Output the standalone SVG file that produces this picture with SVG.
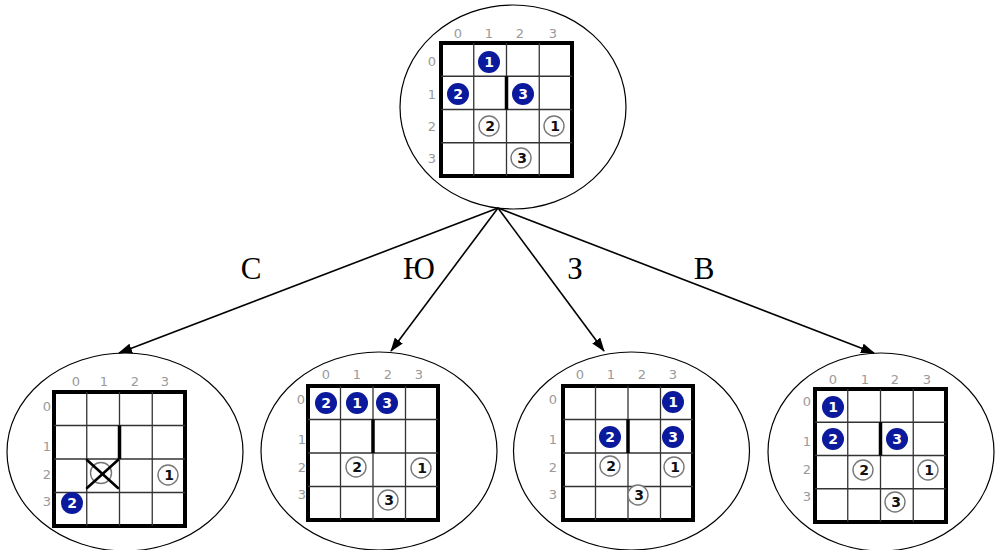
<svg xmlns="http://www.w3.org/2000/svg" width="996" height="550" viewBox="0 0 996 550">
  <style>
    .state { fill: #fff; stroke: #000; stroke-width: 1.2; }
    .frame { fill: #fff; stroke: #000; stroke-width: 4; }
    .cell { stroke: #333; stroke-width: 1.3; fill: none; }
    .wall { stroke: #000; stroke-width: 3.5; stroke-linecap: butt; }
    .idx { font-family: "DejaVu Sans", "Liberation Sans", sans-serif; font-size: 13px; fill: #9a9a9a; text-anchor: middle; }
    .robot { fill: #0b1a9c; }
    .robot-n { font-family: "DejaVu Sans", "Liberation Sans", sans-serif; font-size: 14px; font-weight: bold; fill: #fff; text-anchor: middle; }
    .goal { fill: #fff; stroke: #777; stroke-width: 1.4; }
    .goal-n { font-family: "DejaVu Sans", "Liberation Sans", sans-serif; font-size: 14px; font-weight: bold; fill: #111; text-anchor: middle; }
    .cross { stroke: #000; stroke-width: 2.6; stroke-linecap: round; }
    .edge { stroke: #000; stroke-width: 1.6; fill: none; }
    .move { font-family: "Liberation Serif", "DejaVu Serif", serif; font-size: 31px; fill: #000; text-anchor: middle; }
  </style>
  <defs>
    <marker id="head" markerWidth="14" markerHeight="10" refX="13" refY="5" orient="auto" markerUnits="userSpaceOnUse">
      <path d="M0,0 L14,5 L0,10 Z" fill="#000"/>
    </marker>
  </defs>

  <!-- root state -->
  <g id="root">
    <ellipse class="state" cx="513" cy="107" rx="113" ry="102"/>
    <rect class="frame" x="441" y="43" width="131" height="133"/>
    <path class="cell" d="M473.75,43V176M506.5,43V176M539.25,43V176M441,76.25H572M441,109.5H572M441,142.75H572"/>
    <line class="wall" x1="506.5" y1="76.25" x2="506.5" y2="109.5"/>
    <text class="idx" x="458" y="38">0</text><text class="idx" x="489" y="38">1</text><text class="idx" x="520" y="38">2</text><text class="idx" x="553" y="38">3</text>
    <text class="idx" x="432" y="66">0</text><text class="idx" x="432" y="99">1</text><text class="idx" x="432" y="131">2</text><text class="idx" x="432" y="163">3</text>
    <circle class="robot" cx="489" cy="62" r="11"/><text class="robot-n" x="489" y="67">1</text>
    <circle class="robot" cx="458" cy="94" r="11"/><text class="robot-n" x="458" y="99">2</text>
    <circle class="robot" cx="523" cy="94" r="11"/><text class="robot-n" x="523" y="99">3</text>
    <circle class="goal" cx="489" cy="126" r="10"/><text class="goal-n" x="490" y="131">2</text>
    <circle class="goal" cx="554" cy="126" r="10"/><text class="goal-n" x="555" y="131">1</text>
    <circle class="goal" cx="521" cy="158" r="10"/><text class="goal-n" x="522" y="163">3</text>
  </g>

  <!-- move N -->
  <g id="state-n">
    <ellipse class="state" cx="125" cy="452" rx="118" ry="99"/>
    <rect class="frame" x="54" y="392" width="131" height="134"/>
    <path class="cell" d="M86.75,392V526M119.5,392V526M152.25,392V526M54,425.5H185M54,459H185M54,492.5H185"/>
    <line class="wall" x1="119.5" y1="425.5" x2="119.5" y2="459"/>
    <text class="idx" x="76" y="386">0</text><text class="idx" x="104" y="386">1</text><text class="idx" x="135" y="386">2</text><text class="idx" x="165" y="386">3</text>
    <text class="idx" x="47" y="411">0</text><text class="idx" x="47" y="451">1</text><text class="idx" x="47" y="479">2</text><text class="idx" x="47" y="506">3</text>
    <circle class="goal" cx="101" cy="473" r="10.5"/>
    <line class="cross" x1="87" y1="460" x2="118" y2="488"/>
    <line class="cross" x1="118" y1="460" x2="87" y2="488"/>
    <circle class="goal" cx="168" cy="475" r="10"/><text class="goal-n" x="169" y="480">1</text>
    <circle class="robot" cx="72" cy="503" r="11"/><text class="robot-n" x="72" y="508">2</text>
  </g>

  <!-- move S -->
  <g id="state-s">
    <ellipse class="state" cx="379" cy="451" rx="118" ry="99"/>
    <rect class="frame" x="308" y="386" width="130" height="134"/>
    <path class="cell" d="M340.5,386V520M373,386V520M405.5,386V520M308,419.5H438M308,453H438M308,486.5H438"/>
    <line class="wall" x1="373" y1="419.5" x2="373" y2="453"/>
    <text class="idx" x="326" y="379">0</text><text class="idx" x="357" y="379">1</text><text class="idx" x="388" y="379">2</text><text class="idx" x="419" y="379">3</text>
    <text class="idx" x="301" y="404">0</text><text class="idx" x="302" y="444">1</text><text class="idx" x="302" y="472">2</text><text class="idx" x="302" y="499">3</text>
    <circle class="robot" cx="326" cy="403" r="11"/><text class="robot-n" x="326" y="408">2</text>
    <circle class="robot" cx="357" cy="403" r="11"/><text class="robot-n" x="357" y="408">1</text>
    <circle class="robot" cx="387" cy="403" r="11"/><text class="robot-n" x="387" y="408">3</text>
    <circle class="goal" cx="356" cy="467" r="10"/><text class="goal-n" x="357" y="472">2</text>
    <circle class="goal" cx="421" cy="468" r="10"/><text class="goal-n" x="422" y="473">1</text>
    <circle class="goal" cx="388" cy="500" r="10"/><text class="goal-n" x="389" y="505">3</text>
  </g>

  <!-- move W -->
  <g id="state-w">
    <ellipse class="state" cx="631.5" cy="451" rx="118" ry="99"/>
    <rect class="frame" x="563" y="386" width="130" height="134"/>
    <path class="cell" d="M595.5,386V520M628,386V520M660.5,386V520M563,419.5H693M563,453H693M563,486.5H693"/>
    <line class="wall" x1="628" y1="419.5" x2="628" y2="453"/>
    <text class="idx" x="580" y="379">0</text><text class="idx" x="611" y="379">1</text><text class="idx" x="642" y="379">2</text><text class="idx" x="673" y="379">3</text>
    <text class="idx" x="553" y="404">0</text><text class="idx" x="553" y="444">1</text><text class="idx" x="553" y="472">2</text><text class="idx" x="553" y="499">3</text>
    <circle class="robot" cx="673" cy="402" r="11"/><text class="robot-n" x="673" y="407">1</text>
    <circle class="robot" cx="610" cy="437" r="11"/><text class="robot-n" x="610" y="442">2</text>
    <circle class="robot" cx="673" cy="437" r="11"/><text class="robot-n" x="673" y="442">3</text>
    <circle class="goal" cx="610" cy="466" r="10"/><text class="goal-n" x="611" y="471">2</text>
    <circle class="goal" cx="674" cy="467" r="10"/><text class="goal-n" x="675" y="472">1</text>
    <circle class="goal" cx="638" cy="495" r="10"/><text class="goal-n" x="639" y="500">3</text>
  </g>

  <!-- move E -->
  <g id="state-e">
    <ellipse class="state" cx="881" cy="452" rx="113" ry="99"/>
    <rect class="frame" x="815" y="389" width="131" height="133"/>
    <path class="cell" d="M847.75,389V522M880.5,389V522M913.25,389V522M815,422.25H946M815,455.5H946M815,488.75H946"/>
    <line class="wall" x1="880.5" y1="422.25" x2="880.5" y2="455.5"/>
    <text class="idx" x="833" y="384">0</text><text class="idx" x="865" y="384">1</text><text class="idx" x="895" y="384">2</text><text class="idx" x="927" y="384">3</text>
    <text class="idx" x="807" y="406">0</text><text class="idx" x="807" y="446">1</text><text class="idx" x="807" y="474">2</text><text class="idx" x="807" y="501">3</text>
    <circle class="robot" cx="833" cy="407" r="11"/><text class="robot-n" x="833" y="412">1</text>
    <circle class="robot" cx="833" cy="439" r="11"/><text class="robot-n" x="833" y="444">2</text>
    <circle class="robot" cx="897" cy="439" r="11"/><text class="robot-n" x="897" y="444">3</text>
    <circle class="goal" cx="863" cy="470" r="10"/><text class="goal-n" x="864" y="475">2</text>
    <circle class="goal" cx="928" cy="470" r="10"/><text class="goal-n" x="929" y="475">1</text>
    <circle class="goal" cx="895" cy="502" r="10"/><text class="goal-n" x="896" y="507">3</text>
  </g>

  <!-- transitions -->
  <g id="edges">
    <line class="edge" x1="498" y1="208" x2="119" y2="353" marker-end="url(#head)"/>
    <line class="edge" x1="498" y1="208" x2="391" y2="351" marker-end="url(#head)"/>
    <line class="edge" x1="498" y1="208" x2="604" y2="351" marker-end="url(#head)"/>
    <line class="edge" x1="498" y1="208" x2="874" y2="353" marker-end="url(#head)"/>
    <text class="move" x="251" y="279">С</text>
    <text class="move" x="419" y="279">Ю</text>
    <text class="move" x="575" y="279">З</text>
    <text class="move" x="704" y="279">В</text>
  </g>
</svg>
